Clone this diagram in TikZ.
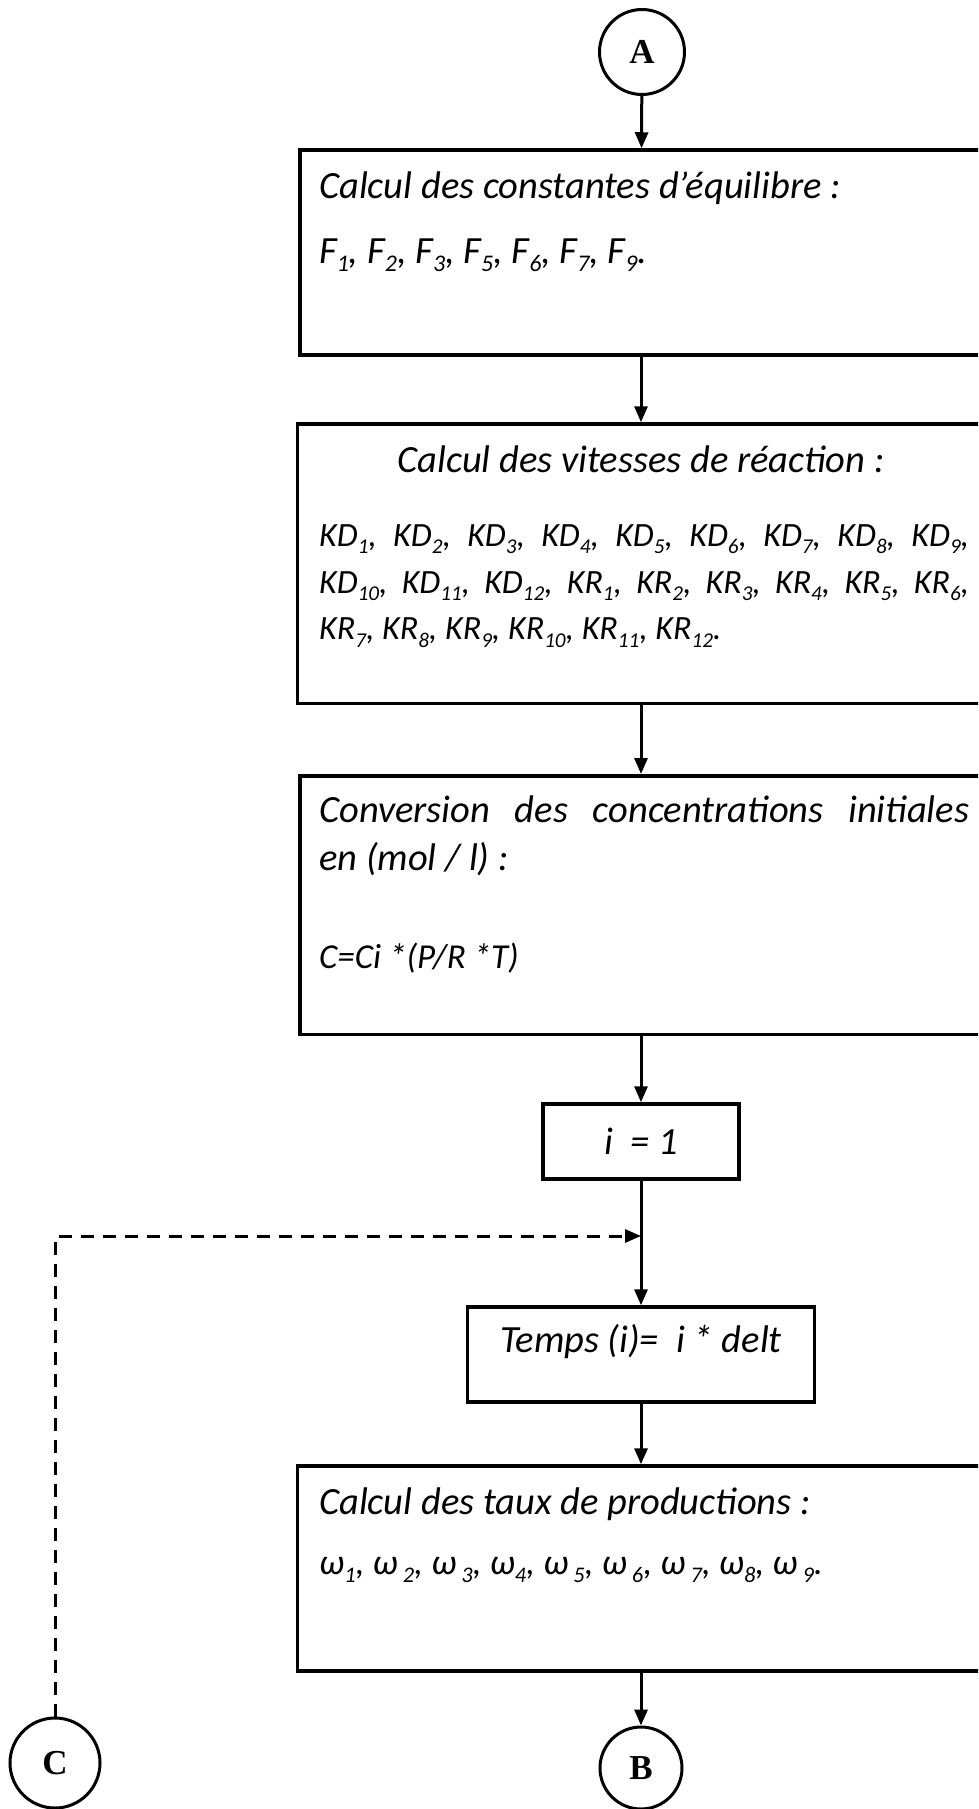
\documentclass[tikz,border=0pt]{standalone}
\usepackage{graphicx}
\usepackage{fontspec}
\setmainfont{Carlito}
\newfontfamily\letterfont{Liberation Serif}
\usetikzlibrary{arrows.meta}

\newcommand{\sub}[1]{\raisebox{-0.22em}{\scalebox{0.62}{#1}}}

\begin{document}
\begin{tikzpicture}[x=1pt, y=-1pt,
    every node/.style={font=\itshape\fontsize{38.5}{48}\selectfont},
    box/.style={draw, line width=3.5pt, inner sep=0pt},
    conn/.style={draw, circle, line width=3pt, inner sep=0pt,
        font=\letterfont\bfseries\fontsize{35}{35}\selectfont},
    txt/.style={anchor=west, inner sep=0pt},
    list/.style={font=\itshape\fontsize{34}{46.7}\selectfont},
    small/.style={font=\itshape\fontsize{35}{40}\selectfont},
    arrow/.style={line width=3pt, -{Triangle[length=16pt,width=13pt]}},
    loopback/.style={arrow, dash pattern=on 13pt off 9pt}]
    \useasboundingbox (0,0) rectangle (978,1809);
    \clip (0,0) rectangle (978,1809);

    % connectors
    \node[conn, minimum size=85pt] (A) at (642,52) {A};
    \node[conn, minimum size=82pt] (B) at (641,1768) {B};
    \node[conn, minimum size=90pt] (C) at (55,1763) {C};

    % boxes (the wide ones run off the right edge)
    \node[box, minimum width=682pt, minimum height=205pt] (equil) at (641,252.5) {};
    \node[box, minimum width=687pt, minimum height=279.5pt] (speed) at (641,563.75) {};
    \node[box, minimum width=682pt, minimum height=258.5pt] (conv) at (641,905) {};
    \node[box, minimum width=196pt, minimum height=75pt] (init) at (641,1141.5) {i~~= 1};
    \node[box, minimum width=347pt, minimum height=95pt] (time) at (641,1354.5) {};
    \node[box, minimum width=687pt, minimum height=205pt] (rates) at (641,1568.5) {};
    \coordinate (loop) at (641,1236);

    % texts
    \node[txt] (equilA) at (319,188) {Calcul des constantes d’équilibre :};
    \node[txt] (equilB) at (319,255) {F\sub1, F\sub2, F\sub3, F\sub5, F\sub6, F\sub7, F\sub9.};
    \node[inner sep=0pt] (speedA) at (641,459) {Calcul des vitesses de réaction :};
    \node[txt, list, text width=650pt, align=justify] (speedB) at (319,586)
        {KD\sub1, KD\sub2, KD\sub3, KD\sub4, KD\sub5, KD\sub6, KD\sub7, KD\sub8, KD\sub9,\linebreak
         KD\sub{10}, KD\sub{11}, KD\sub{12}, KR\sub1, KR\sub2, KR\sub3, KR\sub4, KR\sub5, KR\sub6,\linebreak
         KR\sub7, KR\sub8, KR\sub9, KR\sub{10}, KR\sub{11}, KR\sub{12}.};
    \node[txt, text width=650pt, align=justify] (convA) at (319,836)
        {Conversion des concentrations initiales\linebreak en (mol / l) :};
    \node[txt, small] (convB) at (319,958) {C=Ci *(P/R *T)};
    \node[inner sep=0pt] (timeA) at (641,1342) {Temps (i)=~~i * delt};
    \node[txt] (ratesA) at (319,1504) {Calcul des taux de productions :};
    \node[txt, small, font=\itshape\fontsize{36}{40}\selectfont] (ratesB) at (319,1570)
        {ω\sub1, ω\sub{~2}, ω\sub{~3}, ω\sub4, ω\sub{~5}, ω\sub{~6}, ω\sub{~7}, ω\sub8, ω\sub{~9}.};

    % flow
    \draw[arrow] (A) -- (equil);
    \draw[arrow] (equil) -- (speed);
    \draw[arrow] (speed) -- (conv);
    \draw[arrow] (conv) -- (init);
    \draw[arrow] (init) -- (time);
    \draw[arrow] (time) -- (rates);
    \draw[arrow] (rates) -- (B);
    \draw[loopback] (C) |- (loop);
\end{tikzpicture}
\end{document}
